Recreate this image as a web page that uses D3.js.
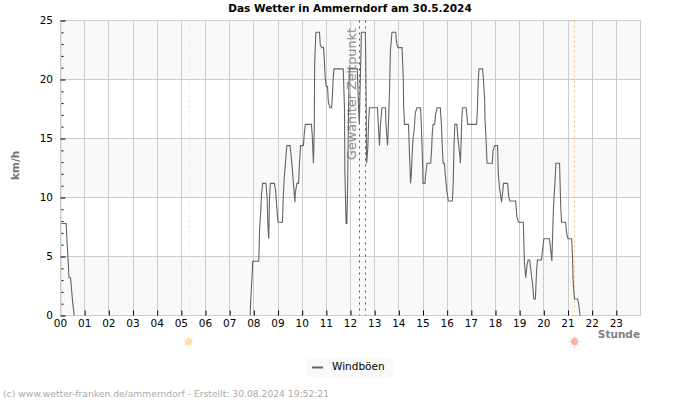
<!DOCTYPE html>
<html>
<head>
<meta charset="utf-8">
<script src="https://cdnjs.cloudflare.com/ajax/libs/d3/7.8.5/d3.min.js"></script>
<style>
html,body{margin:0;padding:0;background:#fff;}
svg{display:block;font-family:"DejaVu Sans",sans-serif;}
</style>
</head>
<body>
<svg id="svg" width="700" height="400"></svg>
<script>
// minutes since midnight, gust value in km/h
var minutesA=[0,14,16,19,21,25,27,30,34];
var gustsA=[7.8,7.8,6.4,4.6,3.2,3.2,2.4,1.2,0];

var minutesB=[471,472,476,477,492,493,494,497,499,502,510,513,515,517,519,521,531,534,537,540,551,553,556,558,560,562,570,573,576,578,582,583,587,591,593,596,603,606,608,623,625,627,628,630,631,634,643,645,649,653,655,657,660,663,665,669,673,675,677,679,702,705,706,709,711,713,715,717,737,740,742,743,745,747,757,758,759,760,763,765,767,787,789,791,792,794,798,807,808,812,814,817,819,823,832,835,838,848,849,851,852,854,864,866,868,869,871,873,875,878,881,885,894,896,899,900,905,906,910,919,921,923,925,929,931,935,943,946,948,950,953,956,959,963,973,975,977,979,984,987,990,992,993,996,998,1007,1011,1033,1035,1037,1039,1048,1050,1053,1054,1057,1059,1072,1074,1078,1085,1087,1090,1095,1097,1100,1110,1113,1116,1130,1133,1137,1149,1152,1155,1158,1161,1165,1169,1172,1175,1179,1182,1184,1194,1198,1200,1214,1218,1220,1222,1224,1228,1230,1239,1242,1244,1254,1257,1260,1269,1271,1273,1276,1284,1287,1290];
var gustsB=[0,1.1,3.6,4.6,4.6,5.4,7.1,8.7,10.3,11.2,11.2,10,7.6,6.5,10,11.2,11.2,10.6,9.2,7.9,7.9,10,11.9,12.7,13.6,14.4,14.4,13.4,12.3,11.3,9.6,10.4,11.2,11.2,12.7,14.4,14.4,15.7,16.2,16.2,15.3,13.7,12.9,15.7,21.3,24,24,22.9,22.7,22.7,21.7,20.2,19.4,19.4,18.1,17.6,17.6,18.6,20.1,20.9,20.9,17.6,12.3,7.8,7.8,11.2,17,20.9,20.9,17.6,16.2,18,20.9,24,24,21,17.6,12.9,14.2,16.4,17.6,17.6,16.2,15,14.4,16,17.6,17.6,16.2,14.4,16,19.1,22.4,24,24,23,22.7,22.7,21.8,20.2,17.8,16.2,16.2,14,12.4,11.2,12,13.6,14.9,15.7,17.2,17.6,17.6,16,12.9,11.2,11.2,11.8,12.9,12.9,13.8,15.4,16.2,16.2,17,17.6,17.6,16,14.2,12.9,12.9,11.7,10.6,9.7,9.7,11.2,14.4,16.2,16.2,14.9,14,13.4,12.9,16.4,17.6,17.6,16.2,16.2,17.4,19.8,20.9,20.9,20,18.4,16.6,14.6,12.9,12.9,14,14.4,14.4,12,10.8,9.6,10.2,11.2,11.2,10,9.7,9.7,8.4,7.9,7.9,4.4,3.2,4.2,4.7,4.7,3.5,2.7,1.4,1.4,3.8,4.7,4.7,5.9,6.5,6.5,5.3,4.6,7.1,9.2,11.5,12.9,12.9,9.2,7.9,7.9,6.9,6.5,6.5,5.2,2.7,1.4,1.4,0.85,0];

var hourLabels=["00","01","02","03","04","05","06","07","08","09","10","11","12","13","14","15","16","17","18","19","20","21","22","23"];
var yMajor=[0,5,10,15,20,25];
var yMinor=[1,2,3,4,6,7,8,9,11,12,13,14,16,17,18,19,21,22,23,24];
var bands=[[0,5],[10,15],[20,25]];
var selectedMinutes=[743,757];
var sunriseMinute=320;
var sunsetMinute=1277;

var svg=d3.select("#svg");

var xscale=d3.scaleLinear().domain([0,1440]).range([60.5,640.5]);
var yscale=d3.scaleLinear().domain([0,25]).range([315.5,20.5]);

var gridColor="#cccccc";
var hourMinutes=hourLabels.map(function(d,i){return i*60;});

function snap(v){return Math.round(v-0.5)+0.5;}

// background bands
svg.append("g").selectAll("rect").data(bands).enter()
.append("rect")
.attr("x",xscale(0))
.attr("width",xscale(1440)-xscale(0))
.attr("y",function(d){return yscale(d[1]);})
.attr("height",function(d){return yscale(d[0])-yscale(d[1]);})
.attr("fill","#f9f9f9");

// grid
svg.append("g").selectAll("line").data(yMajor).enter()
.append("line")
.attr("x1",xscale(0)).attr("x2",xscale(1440))
.attr("y1",function(d){return snap(yscale(d));})
.attr("y2",function(d){return snap(yscale(d));})
.attr("stroke",gridColor);

svg.append("g").selectAll("line").data(hourMinutes.concat([1440])).enter()
.append("line")
.attr("x1",function(d){return snap(xscale(d));})
.attr("x2",function(d){return snap(xscale(d));})
.attr("y1",yscale(25)).attr("y2",yscale(0))
.attr("stroke",gridColor);

// sunrise, sunset
svg.append("line")
.attr("x1",snap(xscale(sunriseMinute))).attr("x2",snap(xscale(sunriseMinute)))
.attr("y1",yscale(25)).attr("y2",yscale(0))
.attr("stroke","#f7ee9a").attr("stroke-dasharray","2,3");

svg.append("line")
.attr("x1",snap(xscale(sunsetMinute))).attr("x2",snap(xscale(sunsetMinute)))
.attr("y1",yscale(25)).attr("y2",yscale(0))
.attr("stroke","#f5c987").attr("stroke-dasharray","2,3");

// selected time
svg.append("text")
.attr("transform","translate(355.5,160) rotate(-90)")
.attr("font-size",12.8)
.attr("fill","#8c8c8c")
.text("Gewählter Zeitpunkt");

svg.append("g").selectAll("line").data(selectedMinutes).enter()
.append("line")
.attr("x1",function(d){return snap(xscale(d));})
.attr("x2",function(d){return snap(xscale(d));})
.attr("y1",yscale(25)).attr("y2",yscale(0))
.attr("stroke","#555555").attr("stroke-dasharray","2,4");

// gust line
var line=d3.line()
.x(function(d){return xscale(d[0]);})
.y(function(d){return yscale(d[1]);});

svg.append("path")
.attr("d",line(d3.zip(minutesA,gustsA)))
.attr("fill","none").attr("stroke","#646464").attr("stroke-width",1.1);

svg.append("path")
.attr("d",line(d3.zip(minutesB,gustsB)))
.attr("fill","none").attr("stroke","#646464").attr("stroke-width",1.1);

// ticks
var yaxis=d3.axisRight(yscale).tickValues(yMajor).tickSize(5).tickFormat("");
svg.append("g")
.attr("transform","translate("+xscale(0)+",0)")
.call(yaxis)
.call(function(g){
	g.select(".domain").attr("stroke",gridColor);
	g.selectAll(".tick line").attr("stroke","#000");
});

var yaxisMinor=d3.axisRight(yscale).tickValues(yMinor).tickSize(2).tickFormat("");
svg.append("g")
.attr("transform","translate("+(xscale(0)+1)+",0)")
.call(yaxisMinor)
.call(function(g){
	g.select(".domain").remove();
	g.selectAll(".tick line").attr("stroke","#000");
});

// y labels
svg.append("g").selectAll("text").data(yMajor).enter()
.append("text")
.attr("x",53)
.attr("y",function(d){return yscale(d)+3;})
.attr("text-anchor","end")
.attr("font-size",10.5)
.attr("fill","#000")
.text(function(d){return d;});

// x axis
var xaxis=d3.axisTop(xscale).tickValues(hourMinutes.slice(1)).tickSize(5).tickFormat("");
svg.append("g")
.attr("transform","translate(0,"+yscale(0)+")")
.call(xaxis)
.call(function(g){
	g.select(".domain").remove();
	g.selectAll(".tick line").attr("stroke","#000");
});

svg.append("g").selectAll("text").data(hourLabels).enter()
.append("text")
.attr("x",function(d,i){return xscale(i*60);})
.attr("y",327)
.attr("text-anchor","middle")
.attr("font-size",10.5)
.attr("fill","#000")
.text(function(d){return d;});

// sun icons
function sun(x,y,color,rays){
	var g=svg.append("g").attr("transform","translate("+x+","+y+")");
	g.selectAll("line").data(d3.range(8)).enter()
	.append("line")
	.attr("x1",function(d){return 3.5*Math.cos(d*Math.PI/4);})
	.attr("y1",function(d){return 3.5*Math.sin(d*Math.PI/4);})
	.attr("x2",function(d){return 6*Math.cos(d*Math.PI/4);})
	.attr("y2",function(d){return 6*Math.sin(d*Math.PI/4);})
	.attr("stroke",rays);
	g.append("circle").attr("r",3.5).attr("fill",color);
}
sun(188.5,341.5,"#fde29b","#fdeebb");
sun(574.5,341.5,"#fdb1a0","#fdcfc4");

// titles
svg.append("text")
.attr("x",350).attr("y",12)
.attr("text-anchor","middle")
.attr("font-size",10.5).attr("font-weight","bold")
.attr("fill","#000")
.text("Das Wetter in Ammerndorf am 30.5.2024");

svg.append("text")
.attr("transform","translate(19,180) rotate(-90)")
.attr("font-size",10.5).attr("font-weight","bold")
.attr("fill","#777")
.text("km/h");

svg.append("text")
.attr("x",640).attr("y",338)
.attr("text-anchor","end")
.attr("font-size",10.5).attr("font-weight","bold")
.attr("fill","#808080")
.text("Stunde");

// legend
svg.append("rect")
.attr("x",307).attr("y",358).attr("width",87).attr("height",19)
.attr("fill","#f9f9f9");
svg.append("line")
.attr("x1",312).attr("x2",323).attr("y1",367.5).attr("y2",367.5)
.attr("stroke","#646464").attr("stroke-width",2);
svg.append("text")
.attr("x",332).attr("y",370)
.attr("font-size",10.5).attr("fill","#000")
.text("Windböen");

// footer
svg.append("text")
.attr("x",3).attr("y",397)
.attr("font-size",9.2).attr("fill","#aaaaaa")
.text("(c) www.wetter-franken.de/ammerndorf - Erstellt: 30.08.2024 19:52:21");
</script>
</body>
</html>
